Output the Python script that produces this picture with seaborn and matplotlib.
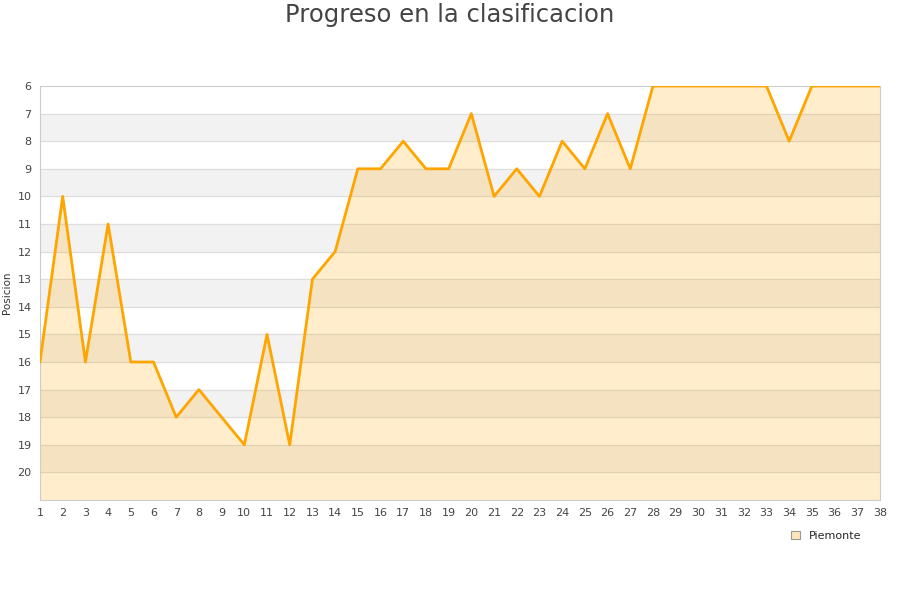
import matplotlib
matplotlib.use("Agg")
import matplotlib.pyplot as plt
import seaborn as sns
import pandas as pd
from matplotlib.patches import Patch

jornadas = list(range(1, 39))
posiciones = [16, 10, 16, 11, 16, 16, 18, 17, 18, 19, 15, 19, 13, 12, 9, 9, 8, 9, 9, 7,
              10, 9, 10, 8, 9, 7, 9, 6, 6, 6, 6, 6, 6, 8, 6, 6, 6, 6]
y_ticks = list(range(6, 21))
equipo = "Piemonte"

df = pd.DataFrame({"Jornada": jornadas, "Posicion": posiciones})

sns.set_style("white")
plt.rcParams["font.family"] = ["DejaVu Sans"]

fig = plt.figure(figsize=(9, 6), dpi=100)
ax = fig.add_axes([40 / 900, 1 - 500 / 600, 840 / 900, 414 / 600])

# alternating bands
for i, y in enumerate(range(6, 21)):
    if i % 2 == 1:
        ax.axhspan(y, y + 1, color="#f2f2f2", zorder=0)
for y in range(7, 21):
    ax.axhline(y, color="#dddddd", lw=0.8, zorder=1)

ax.fill_between(df["Jornada"], df["Posicion"], 21, color="#ffa500", alpha=0.2, lw=0, zorder=2)
sns.lineplot(data=df, x="Jornada", y="Posicion", ax=ax, color="#ffa500", lw=2, zorder=3)

ax.set_xlim(1, 38)
ax.set_ylim(21, 6)
ax.set_xticks(jornadas)
ax.set_yticks(y_ticks)
ax.tick_params(axis="both", labelsize=8, colors="#444444", length=0, pad=6)
ax.set_xlabel("")
ax.set_ylabel("Posicion", fontsize=7.5, color="#333333", labelpad=4)
for s in ax.spines.values():
    s.set_color("#cccccc")
    s.set_linewidth(0.8)

fig.text(0.5, 1 - 15 / 600, "Progreso en la clasificacion", fontsize=17.5,
         color="#444444", ha="center", va="center")

handle = Patch(facecolor="#ffe5b8", edgecolor="#999999", lw=0.8)
fig.legend([handle], [equipo], loc="center", bbox_to_anchor=(826 / 900, 1 - 536 / 600),
           frameon=False, fontsize=8, handlelength=0.8, handleheight=0.8, handletextpad=0.8)

fig.savefig("out.png", dpi=100)
